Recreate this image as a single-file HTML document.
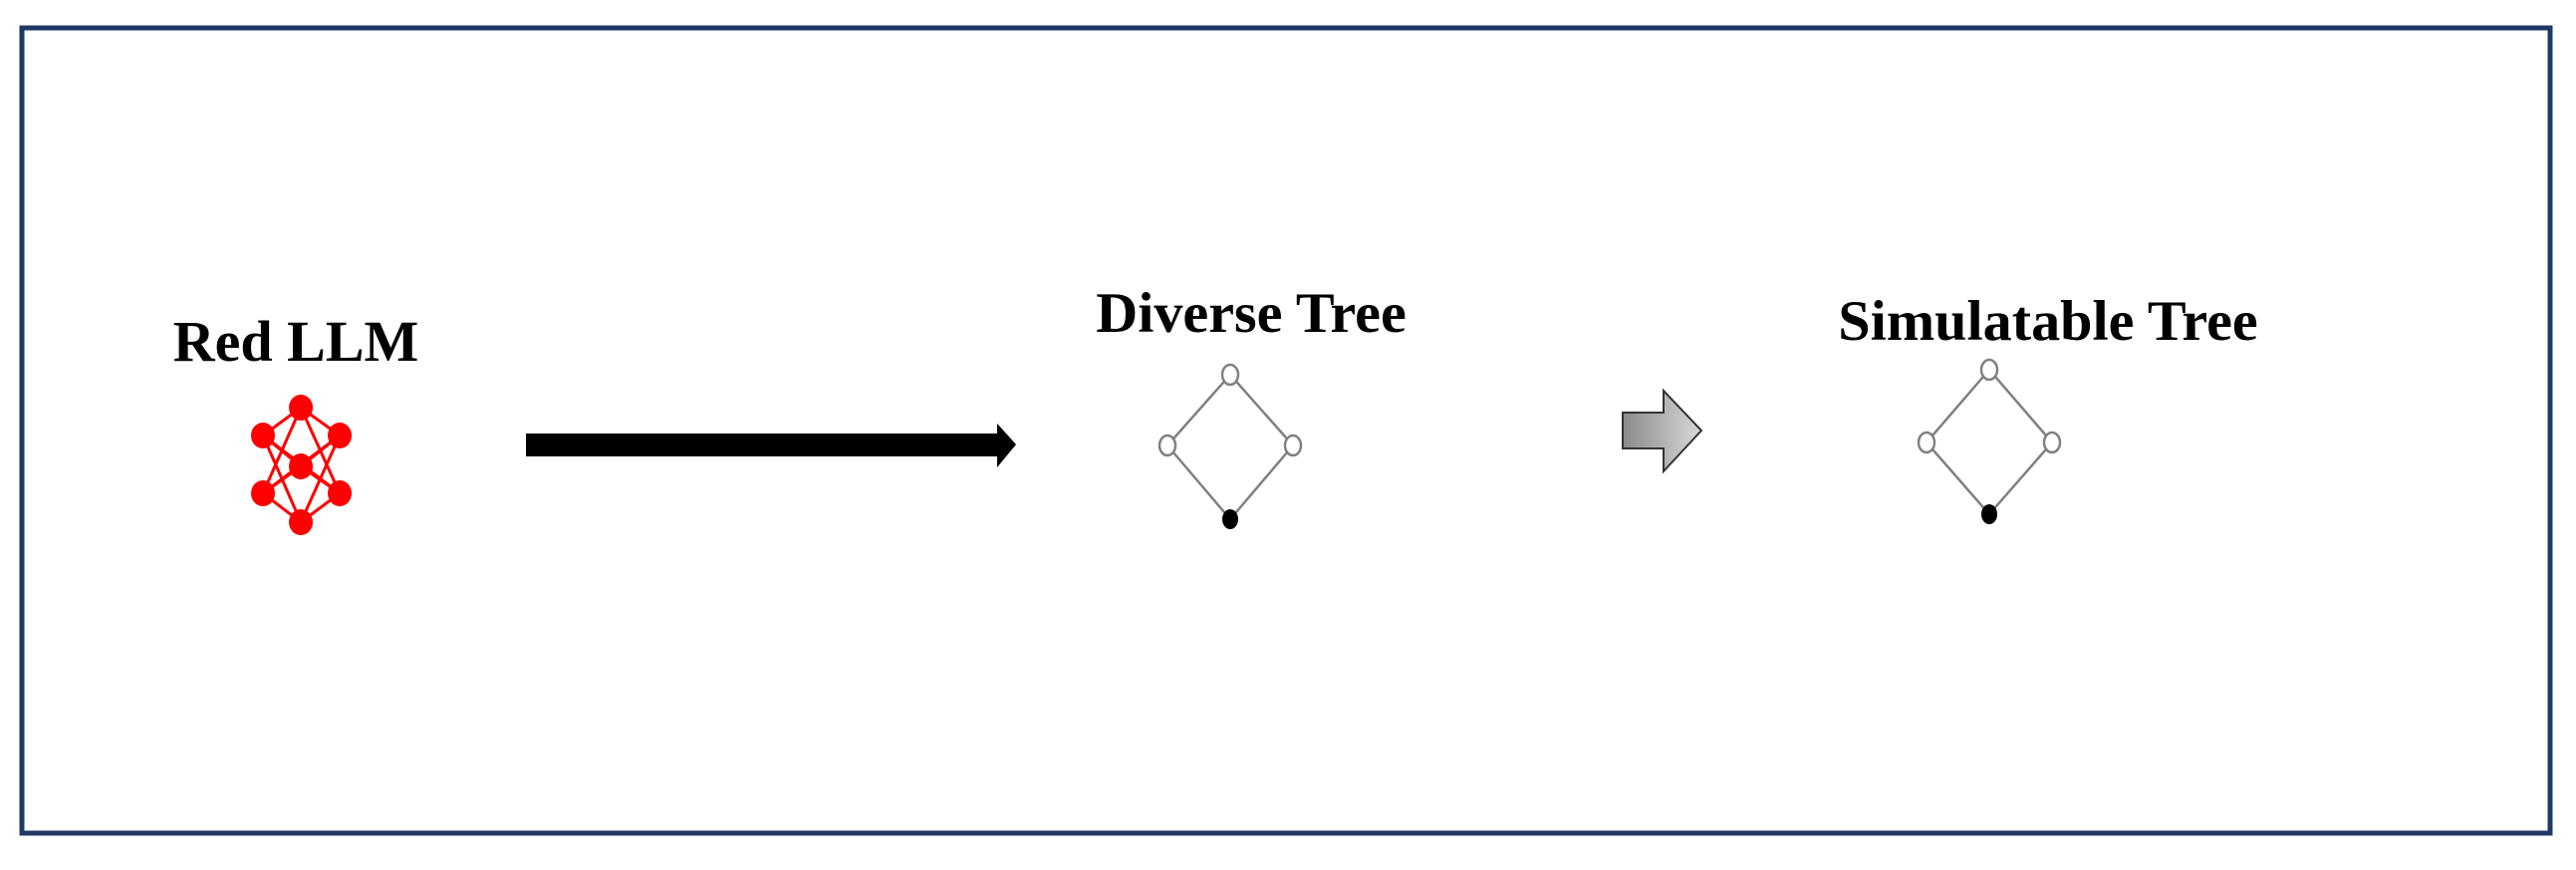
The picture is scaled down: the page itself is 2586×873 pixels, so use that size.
<!DOCTYPE html>
<html><head><meta charset="utf-8"><style>
html,body{margin:0;padding:0;background:#fff;}
body{width:2586px;height:868px;overflow:hidden;position:relative;}
</style></head><body>
<svg width="2586" height="868" viewBox="0 0 2586 868" xmlns="http://www.w3.org/2000/svg">
<defs>
<linearGradient id="g" x1="0" y1="0" x2="1" y2="0">
<stop offset="0" stop-color="#8a8a8a"/><stop offset="1" stop-color="#d8d8d8"/>
</linearGradient>
</defs>
<rect x="22" y="28" width="2538" height="808" fill="#fff" stroke="#1f3864" stroke-width="5"/>
<g font-family="Liberation Serif, serif" font-weight="bold" fill="#000">
<text x="297" y="362" font-size="58" text-anchor="middle" transform="translate(297 0) scale(1.0 1) translate(-297 0)">Red LLM</text>
<text x="1256" y="333" font-size="57" text-anchor="middle" transform="translate(1256 0) scale(1.02 1) translate(-1256 0)">Diverse Tree</text>
<text x="2056" y="341" font-size="57" text-anchor="middle" transform="translate(2056 0) scale(1.02 1) translate(-2056 0)">Simulatable Tree</text>
</g>
<g stroke="#ff0000" stroke-width="3">
<line x1="302" y1="409" x2="264" y2="437"/><line x1="302" y1="409" x2="341" y2="437"/>
<line x1="302" y1="409" x2="264" y2="495"/><line x1="302" y1="409" x2="341" y2="495"/>
<line x1="264" y1="437" x2="302" y2="468"/><line x1="341" y1="437" x2="302" y2="468"/>
<line x1="264" y1="437" x2="341" y2="495"/><line x1="341" y1="437" x2="264" y2="495"/>
<line x1="302" y1="468" x2="264" y2="495"/><line x1="302" y1="468" x2="341" y2="495"/>
<line x1="264" y1="437" x2="302" y2="524"/><line x1="341" y1="437" x2="302" y2="524"/>
<line x1="264" y1="495" x2="302" y2="524"/><line x1="341" y1="495" x2="302" y2="524"/>
</g>
<g fill="#ff0000">
<ellipse cx="302" cy="409" rx="12" ry="13"/><ellipse cx="264" cy="437" rx="12" ry="13"/>
<ellipse cx="341" cy="437" rx="12" ry="13"/><ellipse cx="302" cy="468" rx="12" ry="13"/>
<ellipse cx="264" cy="495" rx="12" ry="13"/><ellipse cx="341" cy="495" rx="12" ry="13"/>
<ellipse cx="302" cy="524" rx="12" ry="13"/>
</g>
<polygon points="528,435 1001,435 1001,425 1020,446 1001,469 1001,458 528,458" fill="#000"/>
<polygon points="1629,414 1670,414 1670,392 1708,432 1670,473 1670,450 1629,450" fill="url(#g)" stroke="#333" stroke-width="2"/>
<g stroke="#808080" stroke-width="2.5" fill="#fff">
<line x1="1235" y1="376" x2="1172" y2="447"/><line x1="1235" y1="376" x2="1298" y2="447"/>
<line x1="1172" y1="447" x2="1235" y2="521"/><line x1="1298" y1="447" x2="1235" y2="521"/>
<line x1="1997" y1="371" x2="1934" y2="444"/><line x1="1997" y1="371" x2="2060" y2="444"/>
<line x1="1934" y1="444" x2="1997" y2="516"/><line x1="2060" y1="444" x2="1997" y2="516"/>
<ellipse cx="1235" cy="376" rx="8" ry="10"/><ellipse cx="1172" cy="447" rx="8" ry="10"/><ellipse cx="1298" cy="447" rx="8" ry="10"/>
<ellipse cx="1997" cy="371" rx="8" ry="10"/><ellipse cx="1934" cy="444" rx="8" ry="10"/><ellipse cx="2060" cy="444" rx="8" ry="10"/>
</g>
<ellipse cx="1235" cy="521" rx="8" ry="10" fill="#000"/>
<ellipse cx="1997" cy="516" rx="8" ry="10" fill="#000"/>
</svg>
</body></html>
